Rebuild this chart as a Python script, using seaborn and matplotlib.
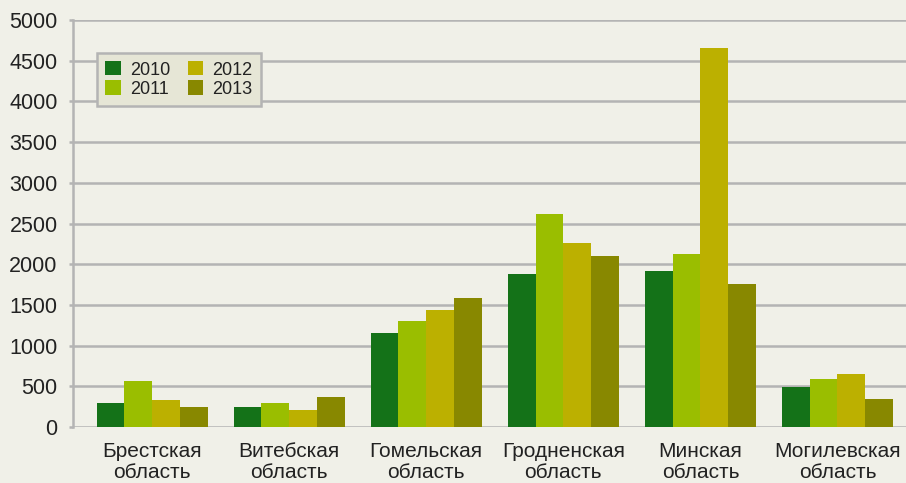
import numpy as np
import pandas as pd
import matplotlib
matplotlib.use('Agg')
import matplotlib.pyplot as plt
import seaborn as sns

sns.set_style('white')
plt.rcParams['font.family'] = ['Liberation Sans', 'DejaVu Sans']

regions = ['Брестская\nобласть', 'Витебская\nобласть', 'Гомельская\nобласть',
           'Гродненская\nобласть', 'Минская\nобласть', 'Могилевская\nобласть']
years = ['2010', '2011', '2012', '2013']
v2010 = [300, 250, 1160, 1880, 1920, 495]
v2011 = [570, 290, 1300, 2620, 2130, 595]
v2012 = [330, 205, 1440, 2260, 4650, 645]
v2013 = [240, 370, 1590, 2100, 1760, 340]

colors = ['#147218', '#9abe00', '#bcb000', '#888800']
bg = '#f0f0e8'

df = pd.DataFrame({'Region': regions * 4,
                   'Year': np.repeat(years, len(regions)),
                   'Value': v2010 + v2011 + v2012 + v2013})

fig = plt.figure(figsize=(9.06, 4.83), dpi=100, facecolor=bg)
ax = fig.add_axes([73 / 906, 56 / 483, 833 / 906, 407 / 483])
ax.set_facecolor(bg)

sns.barplot(data=df, x='Region', y='Value', hue='Year', palette=colors,
            width=0.81, saturation=1, gap=0, linewidth=0, ax=ax, zorder=3)

ax.set_ylim(0, 5000)
ax.set_xlim(-0.577, 5.5)
ax.set_yticks(np.arange(0, 5001, 500))
ax.yaxis.grid(True, color='#b4b4b4', linewidth=1.8, zorder=0)
ax.set_axisbelow(True)
for s in ['top', 'right', 'bottom']:
    ax.spines[s].set_visible(False)
ax.spines['left'].set_color('#b4b4b4')
ax.spines['left'].set_linewidth(1.8)
ax.tick_params(axis='y', length=3, width=1.8, color='#b4b4b4', labelsize=15.5,
               labelcolor='#222222', pad=8, left=True)
ax.tick_params(axis='x', length=0, labelsize=15, labelcolor='#222222', pad=11)
ax.set_xlabel('')
ax.set_ylabel('')
for lbl in ax.get_xticklabels():
    lbl.set_linespacing(1.12)

leg = ax.legend(ncol=2, loc='upper left', bbox_to_anchor=(0.029, 0.919),
                borderaxespad=0, frameon=True, fancybox=False, fontsize=13,
                handlelength=0.85, handleheight=0.85, handletextpad=0.5,
                columnspacing=1.0, labelspacing=0.1, borderpad=0.45, title=None)
leg.get_frame().set_facecolor('#e6e6d6')
leg.get_frame().set_edgecolor('#b4b4b4')
leg.get_frame().set_linewidth(1.8)
leg.get_frame().set_alpha(1)
for t in leg.get_texts():
    t.set_color('#222222')

fig.savefig('out.png', dpi=100, facecolor=bg)
